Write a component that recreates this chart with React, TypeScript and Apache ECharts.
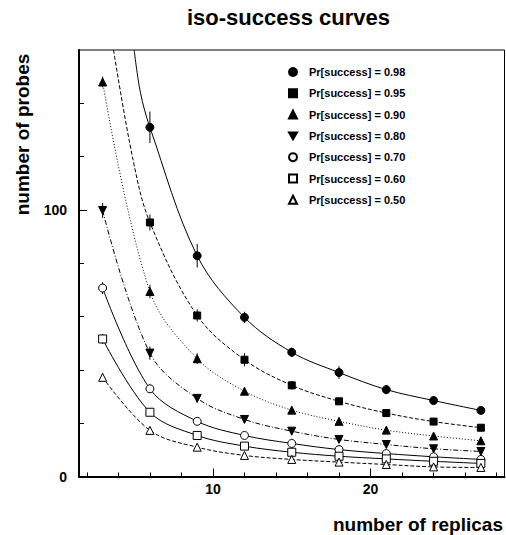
import React, { useEffect, useRef } from 'react';
import * as echarts from 'echarts';

// ---- data ----
const xValues = [3, 6, 9, 12, 15, 18, 21, 24, 27];

const seriesNames = [
  'Pr[success] = 0.98',
  'Pr[success] = 0.95',
  'Pr[success] = 0.90',
  'Pr[success] = 0.80',
  'Pr[success] = 0.70',
  'Pr[success] = 0.60',
  'Pr[success] = 0.50',
];

const p98 = [null, 131.0, 82.8, 59.7, 46.6, 39.0, 32.6, 28.5, 24.8];
const p95 = [null, 95.3, 60.4, 43.8, 34.2, 28.2, 23.8, 20.6, 18.3];
const p90 = [148.0, 69.4, 44.2, 32.0, 24.9, 20.7, 17.4, 15.2, 13.4];
const p80 = [99.8, 46.3, 29.3, 21.4, 17.0, 13.9, 12.0, 10.4, 9.4];
const p70 = [70.7, 32.9, 20.7, 15.4, 12.4, 10.1, 8.6, 7.4, 6.4];
const p60 = [51.6, 24.1, 15.4, 11.4, 9.1, 7.6, 6.6, 5.7, 4.9];
const p50 = [37.2, 17.3, 11.0, 7.9, 6.4, 5.4, 4.5, 3.6, 3.4];

// half-length of the vertical error bars
const err98 = [null, 5.9, 4.4, 2.1, 1.7, 2.4, 1.6, 1.4, 1.2];
const err95 = [null, 3.0, 2.3, 2.5, 1.6, 1.4, 1.2, 1.0, 0.9];
const err90 = [2.0, 2.5, 2.0, 1.5, 1.2, 1.0, 0.9, 0.8, 0.7];
const err80 = [2.8, 2.5, 1.5, 1.2, 1.0, 0.8, 0.7, 0.6, 0.5];
const err70 = [2.2, 1.5, 1.0, 0.8, 0.7, 0.6, 0.5, 0.5, 0.4];
const err60 = [1.9, 1.2, 0.8, 0.7, 0.6, 0.5, 0.4, 0.4, 0.3];
const err50 = [1.5, 1.0, 0.7, 0.6, 0.5, 0.4, 0.3, 0.3, 0.3];

// fitted-curve lead-in points (where the curves enter from the top of the frame)
const lead98 = [[5.0, 160], [5.4, 144]];
const lead95 = [[3.69, 160], [4.93, 118.8]];

const xTicks = [2, 4, 6, 8, 10, 12, 14, 16, 18, 20, 22, 24, 26, 28];
const xLabels = [10, 20];
const yTicks = [0, 20, 40, 60, 80, 100, 120, 140];
const yLabels = [0, 100];

const FONT = '"Liberation Sans", Arial, Helvetica, sans-serif';
const DOWN_TRI = 'path://M0,0L10,0L5,8.66Z';

const defs = [
  { values: p98, errs: err98, lead: lead98, symbol: 'circle', size: 8, filled: true, dash: 'solid' as any },
  { values: p95, errs: err95, lead: lead95, symbol: 'rect', size: 7, filled: true, dash: [4, 2] },
  { values: p90, errs: err90, lead: [], symbol: 'triangle', size: 8, filled: true, dash: [1, 2] },
  { values: p80, errs: err80, lead: [], symbol: DOWN_TRI, size: 8, filled: true, dash: [5, 2, 1, 2] },
  { values: p70, errs: err70, lead: [], symbol: 'circle', size: 8, filled: false, dash: 'solid' as any },
  { values: p60, errs: err60, lead: [], symbol: 'rect', size: 8, filled: false, dash: 'solid' as any },
  { values: p50, errs: err50, lead: [], symbol: 'triangle', size: 8, filled: false, dash: [4, 2] },
];

export default function App() {
  const ref = useRef<HTMLDivElement>(null);

  useEffect(() => {
    if (!ref.current) return;
    const chart = echarts.init(ref.current, null, { renderer: 'svg' });

    const series: any[] = [];
    defs.forEach((d, si) => {
      const pts: number[][] = [];
      const bars: number[][] = [];
      xValues.forEach((x, i) => {
        const v = d.values[i];
        if (v == null) return;
        pts.push([x, v]);
        const e = d.errs[i] as number;
        bars.push([x, v - e, v + e]);
      });
      // fitted curve
      series.push({
        type: 'line',
        name: 'fit' + si,
        data: [...d.lead, ...pts],
        showSymbol: false,
        symbol: 'none',
        smooth: 0.35,
        silent: true,
        z: 3,
        lineStyle: { color: '#000', width: 1, type: d.dash },
      });
      // error bars
      series.push({
        type: 'custom',
        name: 'err' + si,
        data: bars,
        silent: true,
        z: 4,
        renderItem: (params: any, api: any) => {
          const x = api.value(0);
          const p1 = api.coord([x, api.value(1)]);
          const p2 = api.coord([x, api.value(2)]);
          return {
            type: 'line',
            shape: { x1: p1[0], y1: p1[1], x2: p2[0], y2: p2[1] },
            style: { stroke: '#000', lineWidth: 1 },
          };
        },
      });
      // markers
      series.push({
        type: 'scatter',
        name: seriesNames[si],
        data: pts,
        symbol: d.symbol,
        symbolSize: d.size,
        z: 5,
        itemStyle: {
          color: d.filled ? '#000' : '#fff',
          borderColor: '#000',
          borderWidth: 1,
          opacity: 1,
        },
      });
    });

    const labelStyle = {
      fontFamily: FONT,
      fontWeight: 'bold' as const,
      fontSize: 14,
      color: '#000',
    };

    chart.setOption({
      animation: false,
      backgroundColor: '#fff',
      title: {
        text: 'iso-success curves',
        left: 182,
        top: 1,
        textStyle: { fontFamily: FONT, fontWeight: 'bold', fontSize: 22, color: '#000' },
      },
      grid: {
        left: 79,
        right: 1.5,
        top: 50,
        bottom: 58.5,
        show: true,
        borderColor: '#000',
        borderWidth: 1,
        backgroundColor: 'transparent',
      },
      legend: {
        orient: 'vertical',
        left: 283,
        top: 61,
        itemWidth: 8,
        itemHeight: 8,
        itemGap: 9.3,
        selectedMode: false,
        data: seriesNames.map((n, i) => ({ name: n, icon: defs[i].symbol })),
        textStyle: {
          fontFamily: FONT,
          fontWeight: 'bold',
          fontSize: 11,
          color: '#000',
          lineHeight: 12,
          padding: [0, 0, 0, 7],
        },
      },
      xAxis: [
        {
          type: 'value',
          min: 1.5,
          max: 28.5,
          position: 'bottom',
          axisLine: { show: true, onZero: false, lineStyle: { color: '#000', width: 2 } },
          axisTick: { show: true, inside: true, length: 4, customValues: xTicks, lineStyle: { color: '#000', width: 1 } },
          axisLabel: { show: true, customValues: xLabels, margin: 5, ...labelStyle },
          splitLine: { show: false },
        },
        {
          type: 'value',
          min: 1.5,
          max: 28.5,
          position: 'bottom',
          axisLine: { show: false, onZero: false },
          axisTick: { show: true, inside: true, length: 8, customValues: xLabels, lineStyle: { color: '#000', width: 1 } },
          axisLabel: { show: false },
          splitLine: { show: false },
        },
      ],
      yAxis: [
        {
          type: 'value',
          min: 0,
          max: 160,
          position: 'left',
          axisLine: { show: true, onZero: false, lineStyle: { color: '#000', width: 2 } },
          axisTick: { show: true, inside: true, length: 5, customValues: yTicks, lineStyle: { color: '#000', width: 1 } },
          axisLabel: { show: true, customValues: yLabels, margin: 12, ...labelStyle },
          splitLine: { show: false },
        },
        {
          type: 'value',
          min: 0,
          max: 160,
          position: 'left',
          axisLine: { show: false, onZero: false },
          axisTick: { show: true, inside: true, length: 8, customValues: yLabels, lineStyle: { color: '#000', width: 1 } },
          axisLabel: { show: false },
          splitLine: { show: false },
        },
      ],
      graphic: [
        {
          type: 'text',
          x: 22,
          y: 134.5,
          rotation: Math.PI / 2,
          style: {
            text: 'number of probes',
            fill: '#000',
            font: `bold 19px ${FONT}`,
            align: 'center',
            verticalAlign: 'middle',
          },
        },
        {
          type: 'text',
          x: 503,
          y: 524,
          style: {
            text: 'number of replicas',
            fill: '#000',
            font: `bold 19px ${FONT}`,
            align: 'right',
            verticalAlign: 'middle',
          },
        },
      ],
      series,
    });

    return () => chart.dispose();
  }, []);

  return (
    <div
      ref={ref}
      style={{ position: 'fixed', left: 0, top: 0, width: 506, height: 535, background: '#fff' }}
    />
  );
}
